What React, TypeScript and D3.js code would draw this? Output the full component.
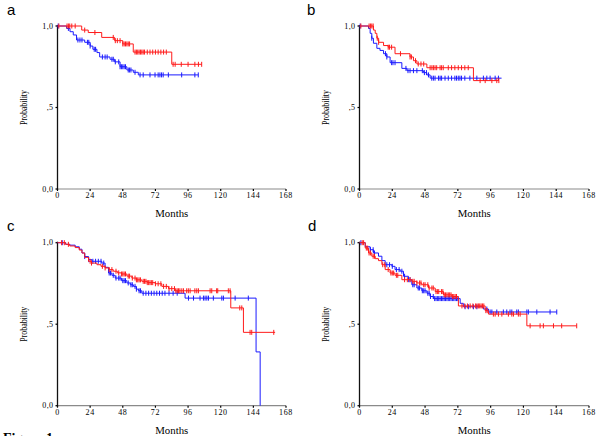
import React from "react";
import * as d3 from "d3";

const xTicks = [0, 24, 48, 72, 96, 120, 144, 168];
const yTicks = [0, 0.5, 1];
const yTickLabels = ["0,0", ",5", "1,0"];
const panelLetters = ["a", "b", "c", "d"];

// Panel a
const aRedTimes = [17.8, 22.6, 32.5, 42, 48, 55.7, 84];
const aRedSurv = [0.975, 0.96, 0.93, 0.91, 0.89, 0.84, 0.765];
const aRedEnd = 106;
const aRedCens = [1, 7, 8, 9, 10.5, 13, 20, 27.5, 41, 42.5, 44, 46, 48, 49, 50, 51, 52, 53, 57, 58, 59, 60, 61, 62, 63, 64, 66, 68, 70, 72, 74, 76, 78, 80, 85, 86.5, 91, 96, 101, 103.6, 106];
const aBlueTimes = [6.7, 9.2, 11.6, 14, 20, 24, 26, 29, 31, 38.6, 42, 46, 51, 55.7, 59.4];
const aBlueSurv = [0.985, 0.965, 0.945, 0.914, 0.9, 0.877, 0.857, 0.837, 0.81, 0.796, 0.78, 0.75, 0.73, 0.716, 0.7];
const aBlueEnd = 103.5;
const aBlueCens = [0.5, 8, 15, 16.5, 18, 22, 23, 24, 27, 28, 33, 35, 36.5, 40, 41, 42.5, 45, 46, 47, 48, 49, 50, 52, 53, 54, 57, 60.7, 63, 68, 71.7, 74, 75.3, 76.5, 77.7, 81.5, 91.3, 101, 103.5];

// Panel b
const bRedTimes = [10.2, 11.5, 12.7, 14, 17.6, 21, 26, 37, 39.5, 42, 49.3, 83.4];
const bRedSurv = [0.975, 0.955, 0.925, 0.9, 0.88, 0.87, 0.83, 0.81, 0.787, 0.767, 0.744, 0.665];
const bRedEnd = 102;
const bRedCens = [1, 7, 8, 9, 10, 13, 14, 21, 22, 23.5, 30, 37, 38, 41, 43, 45, 47, 51.7, 53, 54.1, 55.3, 56.5, 59, 60.1, 61.3, 65, 67.4, 69.8, 72.3, 74.7, 77.1, 79.6, 88.3, 92, 96.9, 100.5, 102];
const bBlueTimes = [6.6, 7.8, 9, 10.2, 12.7, 15, 17.6, 20, 22.4, 31, 34.7, 46.8, 49.3, 51.7];
const bBlueSurv = [0.985, 0.955, 0.925, 0.894, 0.863, 0.85, 0.83, 0.81, 0.775, 0.74, 0.726, 0.714, 0.7, 0.68];
const bBlueEnd = 104;
const bBlueCens = [0.5, 9, 19, 20, 23.5, 24.5, 26, 34, 35.5, 37, 39.5, 42, 46, 47.5, 49, 50.5, 52.9, 54.1, 55.3, 57.8, 59, 60.1, 62.6, 65, 67.4, 69.8, 71, 72.3, 73.5, 74.7, 77.1, 80.8, 85.9, 90.7, 93.2, 95.6, 99.3, 101.7];

// Panel c
const cRedTimes = [6, 9, 13, 16, 18, 20, 22.8, 25, 29, 32, 35, 38, 41, 44, 47, 51, 54.7, 58, 62, 66, 71.8, 76.7, 81.6, 86.5, 127.4, 136.7];
const cRedSurv = [0.99, 0.98, 0.97, 0.955, 0.937, 0.91, 0.886, 0.875, 0.865, 0.855, 0.845, 0.835, 0.825, 0.815, 0.808, 0.795, 0.783, 0.772, 0.763, 0.755, 0.748, 0.732, 0.718, 0.705, 0.6, 0.45];
const cRedEnd = 160;
const cRedCens = [3, 5, 8, 24, 25, 33, 35, 38, 40, 43, 45, 47, 48, 49, 50, 52, 53, 55, 57, 58, 59, 60, 61, 63, 64, 65, 66, 67, 68, 69, 70, 72, 74, 76, 78, 80, 82, 84, 86, 87, 88, 89, 90, 91.4, 92.6, 95, 96.2, 97.5, 101, 102.4, 103.6, 112.2, 113.4, 117, 117.8, 125.6, 126.9, 134, 135.5, 141.6, 142.8, 159];
const cBlueTimes = [6, 9, 13, 16, 18, 20, 22.8, 25.3, 32.6, 35, 37.5, 40, 42.4, 47, 51, 53.5, 55.8, 58, 59.5, 62, 93.8, 146, 149];
const cBlueSurv = [0.99, 0.985, 0.975, 0.96, 0.937, 0.915, 0.896, 0.886, 0.875, 0.849, 0.814, 0.8, 0.783, 0.767, 0.753, 0.742, 0.732, 0.715, 0.705, 0.69, 0.66, 0.33, 0];
const cBlueEnd = 149;
const cBlueCens = [3.5, 20, 23, 26, 28, 30, 32, 34, 38, 39, 41, 43, 45, 46, 48, 49, 50, 52, 54, 55, 57, 58, 60, 61, 63, 65, 67, 69, 71, 73, 75, 77, 79, 82, 85, 88, 96.3, 100, 104.8, 107.3, 108.5, 109.8, 111, 114.6, 120.8, 122, 130.6, 140.3];

// Panel d
const dRedTimes = [4.2, 6.6, 9, 11.5, 13.9, 16.4, 18.8, 22.4, 26, 31, 38.3, 42, 45.6, 50.5, 55.4, 61.5, 67.6, 72.4, 92, 94.4, 122.5];
const dRedSurv = [0.967, 0.937, 0.917, 0.902, 0.89, 0.865, 0.835, 0.814, 0.8, 0.773, 0.763, 0.753, 0.742, 0.722, 0.7, 0.68, 0.67, 0.612, 0.583, 0.562, 0.49];
const dRedEnd = 159;
const dRedCens = [2, 3, 5, 6, 7, 8, 10, 11, 17, 18.5, 21, 23, 24, 25, 27, 28, 33, 35, 37, 39, 40, 42, 44, 45, 47, 48, 50, 51, 53, 54, 56, 57, 58, 60, 61, 62, 63, 64, 65, 66, 67, 68, 69, 70, 71, 75, 77, 79, 81, 83, 85, 86, 87, 88, 89, 90, 91, 92.5, 93.5, 98, 99.3, 101.7, 104.2, 109, 111.5, 112.7, 116.3, 117.6, 124.9, 132.2, 134.6, 142, 148, 159];
const dBlueTimes = [4.2, 7.8, 10.2, 13.9, 16.4, 18.8, 23.7, 26, 29.8, 32.2, 35.8, 38.3, 42, 45.6, 49.3, 51.7, 54.1, 73.7, 76, 90.7, 94.4];
const dBlueSurv = [0.975, 0.957, 0.937, 0.917, 0.89, 0.865, 0.855, 0.835, 0.825, 0.794, 0.773, 0.742, 0.722, 0.705, 0.69, 0.67, 0.657, 0.628, 0.607, 0.593, 0.575];
const dBlueEnd = 144.4;
const dBlueCens = [1, 8, 10, 11, 20, 22, 24, 27, 29, 31, 33, 36, 37, 39, 40, 43, 44, 46, 47, 48, 50, 51, 52, 54, 55, 56, 57, 58, 59, 60, 61, 62, 63, 64, 65, 66, 67, 68, 69, 70, 71, 72, 77.3, 79.7, 83.4, 85.9, 93.2, 95.6, 96.9, 100.5, 105.3, 107.8, 110.2, 111.5, 115.1, 116.3, 122.5, 123.6, 129.8, 139.5, 144.4];

const RED = "#ff1a1a";
const BLUE = "#1a1aff";

type Curve = { times: number[]; surv: number[]; end: number; cens: number[]; color: string };

const panels = [
  {
    x0: 57.5, x1: 286, yTop: 26, yBot: 189,
    curves: [
      { times: aBlueTimes, surv: aBlueSurv, end: aBlueEnd, cens: aBlueCens, color: BLUE },
      { times: aRedTimes, surv: aRedSurv, end: aRedEnd, cens: aRedCens, color: RED },
    ],
  },
  {
    x0: 359.5, x1: 589, yTop: 26, yBot: 189,
    curves: [
      { times: bBlueTimes, surv: bBlueSurv, end: bBlueEnd, cens: bBlueCens, color: BLUE },
      { times: bRedTimes, surv: bRedSurv, end: bRedEnd, cens: bRedCens, color: RED },
    ],
  },
  {
    x0: 57.5, x1: 286, yTop: 242.7, yBot: 405.7,
    curves: [
      { times: cBlueTimes, surv: cBlueSurv, end: cBlueEnd, cens: cBlueCens, color: BLUE },
      { times: cRedTimes, surv: cRedSurv, end: cRedEnd, cens: cRedCens, color: RED },
    ],
  },
  {
    x0: 359.5, x1: 589, yTop: 242.7, yBot: 405.7,
    curves: [
      { times: dBlueTimes, surv: dBlueSurv, end: dBlueEnd, cens: dBlueCens, color: BLUE },
      { times: dRedTimes, surv: dRedSurv, end: dRedEnd, cens: dRedCens, color: RED },
    ],
  },
];

const letterPos = [
  [7, 15],
  [307, 15],
  [7, 231],
  [308, 231],
];

function survAt(c: Curve, t: number) {
  let s = 1;
  for (let i = 0; i < c.times.length; i++) if (c.times[i] <= t) s = c.surv[i];
  return s;
}

function Panel({ p, idx }: { p: any; idx: number }) {
  const x = d3.scaleLinear().domain([0, 168]).range([p.x0, p.x1]);
  const y = d3.scaleLinear().domain([0, 1]).range([p.yBot, p.yTop]);
  const line = d3
    .line<[number, number]>()
    .x((d) => x(d[0]))
    .y((d) => y(d[1]))
    .curve(d3.curveStepAfter);
  const serif = "'Liberation Serif', 'DejaVu Serif', serif";
  return (
    <g>
      <text x={letterPos[idx][0]} y={letterPos[idx][1]} fontFamily="'Liberation Sans', Arial, sans-serif" fontSize={15}>
        {panelLetters[idx]}
      </text>
      {/* x axis */}
      <line x1={x(0)} x2={x(168)} y1={p.yBot} y2={p.yBot} stroke="#8a8a8a" strokeWidth={1.2} />
      {xTicks.map((t) => (
        <g key={"xt" + t}>
          <line x1={x(t)} x2={x(t)} y1={p.yBot} y2={p.yBot + 2} stroke="#000" strokeWidth={1.2} />
          <text x={x(t)} y={p.yBot + 9} textAnchor="middle" fontFamily={serif} fontSize={8} letterSpacing={0.6}>
            {t}
          </text>
        </g>
      ))}
      {/* y axis */}
      <line x1={p.x0} x2={p.x0} y1={p.yTop - 1} y2={p.yBot + 1} stroke="#111" strokeWidth={1.3} />
      {yTicks.map((t, i) => (
        <g key={"yt" + t}>
          <line x1={p.x0 - 2} x2={p.x0} y1={y(t)} y2={y(t)} stroke="#000" strokeWidth={1.2} />
          <text x={p.x0 - 4} y={y(t) + 2.5} textAnchor="end" fontFamily={serif} fontSize={8} letterSpacing={0.4}>
            {yTickLabels[i]}
          </text>
        </g>
      ))}
      <text
        transform={`translate(${p.x0 - 31},${(p.yTop + p.yBot) / 2}) rotate(-90)`}
        textAnchor="middle"
        fontFamily={serif}
        fontSize={10}
        textLength={35}
        lengthAdjust="spacingAndGlyphs"
      >
        Probability
      </text>
      <text
        x={(p.x0 + p.x1) / 2}
        y={p.yBot + 28}
        textAnchor="middle"
        fontFamily={serif}
        fontSize={10}
        textLength={33}
        lengthAdjust="spacingAndGlyphs"
      >
        Months
      </text>
      {p.curves.map((c: Curve, ci: number) => {
        const pts: [number, number][] = [[0, 1]];
        c.times.forEach((t, i) => pts.push([t, c.surv[i]]));
        pts.push([c.end, c.surv[c.surv.length - 1]]);
        return (
          <g key={ci}>
            <path d={line(pts) || ""} fill="none" stroke={c.color} strokeWidth={1} />
            {c.cens.map((t, k) => {
              const s = survAt(c, t);
              return (
                <line
                  key={k}
                  x1={x(t)}
                  x2={x(t)}
                  y1={y(s) - 2.5}
                  y2={y(s) + 2.5}
                  stroke={c.color}
                  strokeWidth={1}
                />
              );
            })}
          </g>
        );
      })}
    </g>
  );
}

export default function App() {
  return (
    <svg
      width={600}
      height={436}
      style={{ position: "absolute", left: 0, top: 0, background: "#fff" }}
    >
      <rect x={0} y={0} width={600} height={436} fill="#fff" />
      {panels.map((p, i) => (
        <Panel key={i} p={p} idx={i} />
      ))}
      <text x={3} y={443} fontFamily="'Liberation Serif', serif" fontWeight="bold" fontSize={14}>
        Figure 1
      </text>
    </svg>
  );
}
